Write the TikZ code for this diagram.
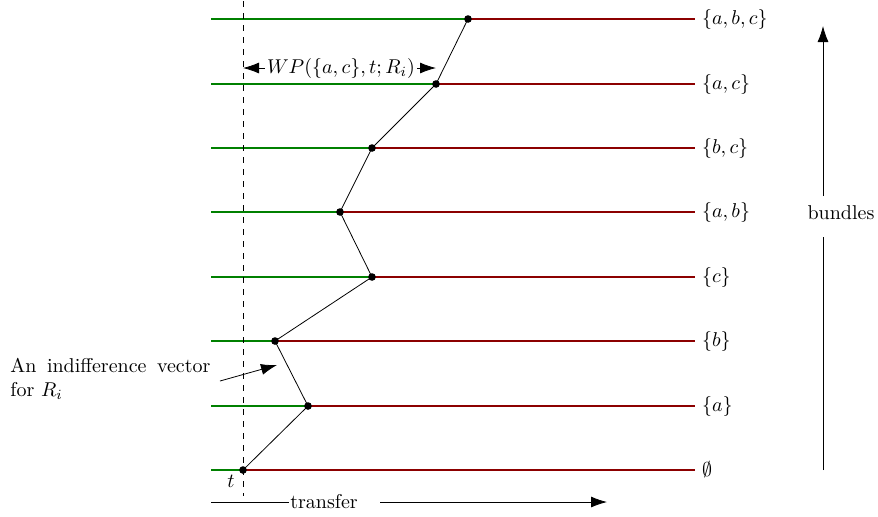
\documentclass[tikz,border=0pt]{standalone}
\usepackage{amsmath,amssymb}
\usepackage{tikz}
\usetikzlibrary{arrows.meta,positioning}
\usepackage{xcolor}

\colorlet{paygreen}{green!50!black}
\colorlet{payred}{red!55!black}
\tikzset{
  dot/.style={circle,fill=black,inner sep=0pt,minimum size=3.8pt},
  greenrow/.style={paygreen,line width=0.8pt},
  redrow/.style={payred,line width=0.8pt},
  setlabel/.style={anchor=west},
  bigarrow/.style={-{Latex[length=8pt,width=5.5pt]}},
}

\begin{document}
\begin{tikzpicture}[x=0.5pt,y=-0.5pt]
\useasboundingbox (0,0) rectangle (878,516);

% where each bundle meets the indifference vector
\coordinate (empty) at (243,470);
\coordinate (a) at (308,406);
\coordinate (b) at (275,341);
\coordinate (c) at (372,277);
\coordinate (ab) at (340,212);
\coordinate (bc) at (372,148);
\coordinate (ac) at (436,84);
\coordinate (abc) at (468,19);
\coordinate (left) at (211,0);
\coordinate (right) at (695,0);

% rows
\foreach \b/\bset in {empty/\emptyset, a/{\{a\}}, b/{\{b\}}, c/{\{c\}},
    ab/{\{a,b\}}, bc/{\{b,c\}}, ac/{\{a,c\}}, abc/{\{a,b,c\}}} {
  \draw[greenrow] (\b -| left) -- (\b);
  \draw[redrow] (\b) -- (\b -| right);
  \node[setlabel] (l\b) at (\b -| right) {$\bset$};
}

% transfer t
\coordinate (ttop) at (243,1);
\coordinate (tbot) at (243,496);
\draw[dashed] (ttop) -- (tbot);
\node (t) at (231,481) {$t$};

% the indifference vector
\draw (empty) -- (a) -- (b) -- (c) -- (ab) -- (bc) -- (ac) -- (abc);
\foreach \b in {empty,a,b,c,ab,bc,ac,abc}
  \node[dot] (d\b) at (\b) {};

\node[inner sep=1pt] (wp) at (341,68) {$WP(\{a,c\},t;R_i)$};
\draw[bigarrow] (wp) -- (wp -| empty);
\draw[bigarrow] (wp) -- (wp -| ac);

\node[text width=100pt,align=justify,anchor=north west,inner sep=0pt] (ivtext)
  at (10,358) {An indifference vector for $R_i$};
\coordinate (ivfrom) at (220,381);
\coordinate (ivto) at (277,365);
\draw[bigarrow] (ivfrom) -- (ivto);

% axes
\node (bundles) at (841,213) {bundles};
\coordinate (bbot) at (823,470);
\coordinate (bgaplow) at (823,237);
\coordinate (bgaphigh) at (823,196);
\coordinate (btop) at (823,26);
\draw (bbot) -- (bgaplow);
\draw[bigarrow] (bgaphigh) -- (btop);

\node[inner xsep=0.5pt] (transfer) at (324,502) {transfer};
\coordinate (trstart) at (211,502);
\coordinate (trgap) at (380,502);
\coordinate (trend) at (607,502);
\draw (trstart) -- (transfer.west);
\draw[bigarrow] (trgap) -- (trend);
\end{tikzpicture}
\end{document}
